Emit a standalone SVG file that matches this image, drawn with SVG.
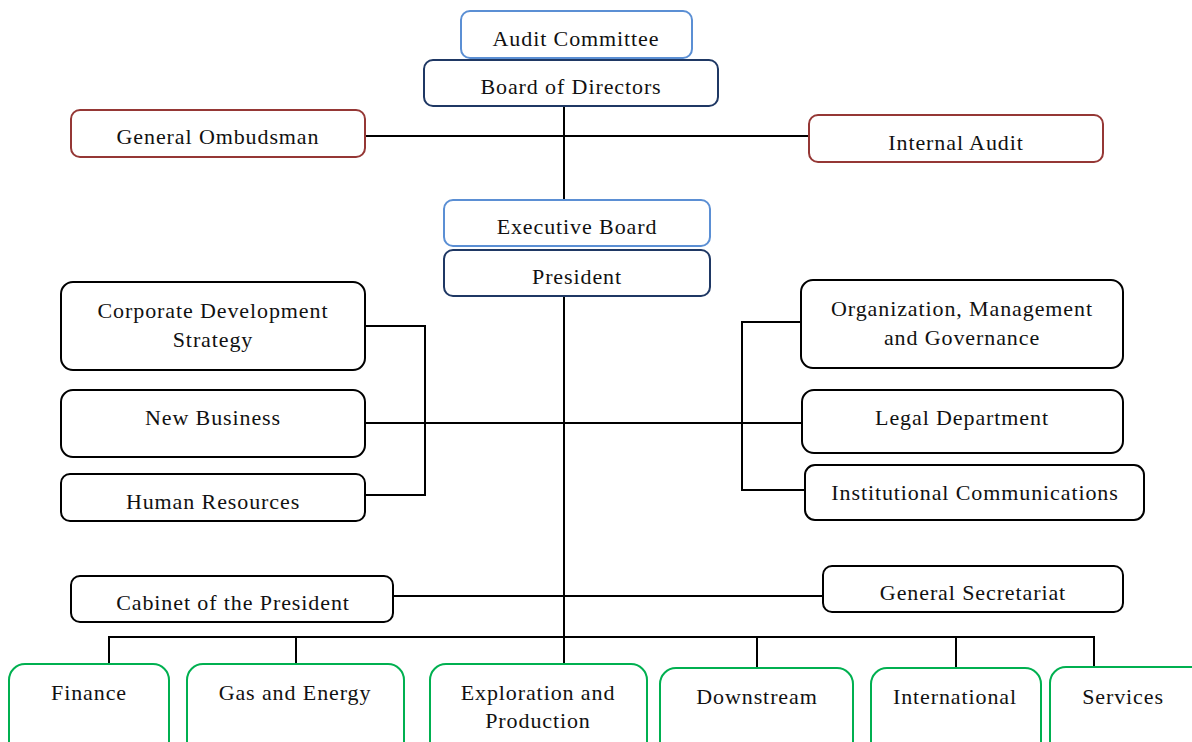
<svg xmlns="http://www.w3.org/2000/svg" width="1192" height="742" viewBox="0 0 1192 742">
<style>
rect{fill:#fff;stroke-width:2}
.lb{stroke:#5B8FD4}
.nv{stroke:#1F3864}
.rd{stroke:#953735}
.bk{stroke:#000}
.gr{stroke:#00B050}
text{font-family:"Liberation Serif","Times New Roman",serif;font-size:22px;letter-spacing:0.9px;fill:#111;text-anchor:middle}
#connectors path{fill:none;stroke:#000;stroke-width:2}
</style>
<g id="connectors">
<path d="M564 106V200M365 136H809"/>
<path d="M564 296V664"/>
<path d="M365 326H425V495H365"/>
<path d="M365 423H802"/>
<path d="M802 322H742V490H805"/>
<path d="M393 596H823"/>
<path d="M109 664V637H1094V667M296 637V664M757 637V668M956 637V668"/>
</g>
<g id="audit-committee"><rect class="lb" x="461" y="11" width="231" height="47" rx="9"/><text x="576" y="46">Audit Committee</text></g>
<g id="board-of-directors"><rect class="nv" x="424" y="60" width="294" height="46" rx="9"/><text x="571" y="94">Board of Directors</text></g>
<g id="general-ombudsman"><rect class="rd" x="71" y="110" width="294" height="47" rx="9"/><text x="218" y="144">General Ombudsman</text></g>
<g id="internal-audit"><rect class="rd" x="809" y="115" width="294" height="47" rx="9"/><text x="956" y="150">Internal Audit</text></g>
<g id="executive-board"><rect class="lb" x="444" y="200" width="266" height="46" rx="9"/><text x="577" y="234">Executive Board</text></g>
<g id="president"><rect class="nv" x="444" y="250" width="266" height="46" rx="9"/><text x="577" y="284">President</text></g>
<g id="corporate-development-strategy"><rect class="bk" x="61" y="282" width="304" height="88" rx="12"/><text x="213" y="318">Corporate Development</text><text x="213" y="347">Strategy</text></g>
<g id="new-business"><rect class="bk" x="61" y="390" width="304" height="67" rx="12"/><text x="213" y="425">New Business</text></g>
<g id="human-resources"><rect class="bk" x="61" y="474" width="304" height="47" rx="9"/><text x="213" y="509">Human Resources</text></g>
<g id="organization-management"><rect class="bk" x="801" y="280" width="322" height="88" rx="12"/><text x="962" y="316">Organization, Management</text><text x="962" y="345">and Governance</text></g>
<g id="legal-department"><rect class="bk" x="802" y="390" width="321" height="63" rx="12"/><text x="962" y="425">Legal Department</text></g>
<g id="institutional-communications"><rect class="bk" x="805" y="465" width="339" height="55" rx="10"/><text x="975" y="500">Institutional Communications</text></g>
<g id="cabinet-of-the-president"><rect class="bk" x="71" y="576" width="322" height="46" rx="9"/><text x="233" y="610">Cabinet of the President</text></g>
<g id="general-secretariat"><rect class="bk" x="823" y="566" width="300" height="46" rx="9"/><text x="973" y="600">General Secretariat</text></g>
<g id="finance"><rect class="gr" x="9" y="664" width="160" height="100" rx="16"/><text x="89" y="700">Finance</text></g>
<g id="gas-and-energy"><rect class="gr" x="187" y="664" width="217" height="100" rx="16"/><text x="295" y="700">Gas and Energy</text></g>
<g id="exploration-and-production"><rect class="gr" x="430" y="664" width="217" height="100" rx="16"/><text x="538" y="700">Exploration and</text><text x="538" y="728">Production</text></g>
<g id="downstream"><rect class="gr" x="660" y="668" width="193" height="100" rx="16"/><text x="757" y="704">Downstream</text></g>
<g id="international"><rect class="gr" x="871" y="668" width="170" height="100" rx="16"/><text x="955" y="704">International</text></g>
<g id="services"><rect class="gr" x="1050" y="667" width="160" height="100" rx="16"/><text x="1123" y="704">Services</text></g>
</svg>
